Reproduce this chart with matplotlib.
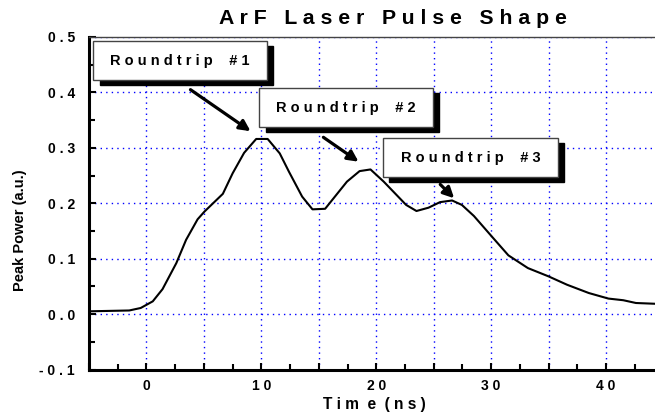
import numpy as np
import matplotlib.pyplot as plt
from matplotlib.patches import Rectangle
from matplotlib.ticker import MultipleLocator, FuncFormatter

plt.rcParams['font.family'] = ['Liberation Sans', 'DejaVu Sans']
plt.rcParams['font.weight'] = 'bold'

# Données ======================================================================
time = [-5, -1.5, -0.5, 0.55, 1.4, 2.6, 3.45, 4.45, 5.05, 6.65, 7.5, 8.5,
        9.55, 10.55, 11.6, 12.4, 13.55, 14.45, 15.55, 17.45, 18.55, 19.5,
        20.65, 22.6, 23.5, 24.55, 25.55, 26.6, 27.45, 28.5, 30.1, 31.5,
        33.2, 35.0, 36.6, 38.5, 40.2, 41.5, 42.6, 45]
power = [0.005, 0.0065, 0.011, 0.023, 0.045, 0.092, 0.134, 0.171, 0.185,
         0.217, 0.254, 0.291, 0.316, 0.316, 0.290, 0.257, 0.212, 0.189,
         0.190, 0.239, 0.258, 0.261, 0.239, 0.197, 0.186, 0.192, 0.202,
         0.205, 0.197, 0.177, 0.139, 0.106, 0.083, 0.068, 0.053, 0.038,
         0.028, 0.025, 0.020, 0.018]

labels = ['Roundtrip #1', 'Roundtrip #2', 'Roundtrip #3']

# Position des étiquettes (x0, x1, y0, y1) et des flèches (départ, arrivée)
boxes = [(-4.63, 10.5, 0.422, 0.493),
         (9.83, 24.93, 0.337, 0.4075),
         (20.6, 35.8, 0.247, 0.317)]
arrows = [((3.83, 0.405), (9.06, 0.330)),
          ((15.4, 0.319), (18.46, 0.275)),
          ((25.57, 0.234), (26.78, 0.209))]


def spaced(s):
    return ' '.join(s)


fig = plt.figure(figsize=(6.55, 4.18), dpi=100)
ax = fig.add_axes([89/655, 48.5/418, 574.5/655, 332.5/418])

ax.plot(time, power, 'k-', lw=1.5, zorder=3)

ax.set_xlim(-5, 45)
ax.set_ylim(-0.1, 0.5)

ax.xaxis.set_major_locator(MultipleLocator(5))
ax.xaxis.set_minor_locator(MultipleLocator(2.5))
ax.xaxis.set_major_formatter(FuncFormatter(
    lambda v, p: spaced('%d' % round(v)) if round(v) % 10 == 0 else ''))
ax.yaxis.set_major_locator(MultipleLocator(0.1))
ax.yaxis.set_minor_locator(MultipleLocator(0.05))
ax.yaxis.set_major_formatter(FuncFormatter(
    lambda v, p: spaced('%.1f' % v) if abs(v) > 1e-9 else '0 . 0'))

ax.grid(True, which='major', color='#0000ff', ls=(0, (1, 3)), lw=1)
ax.tick_params(which='both', direction='in', width=1.5, labelsize=10)
ax.tick_params(which='major', length=5)
ax.tick_params(which='minor', length=4)
ax.tick_params(axis='y', pad=10)
ax.tick_params(axis='x', pad=7)

ax.spines['left'].set_linewidth(2.2)
ax.spines['bottom'].set_linewidth(2.2)
ax.spines['top'].set_linewidth(1)
ax.spines['top'].set_color('#444444')
ax.spines['right'].set_visible(False)

# Étiquettes avec ombre et flèches ============================================
dx, dy = 0.55, 0.009
for lab, (x0, x1, y0, y1) in zip(labels, boxes):
    ax.add_patch(Rectangle((x0 + dx, y0 - dy), x1 - x0, y1 - y0,
                           fc='k', ec='k', zorder=5, clip_on=False))
    ax.add_patch(Rectangle((x0, y0), x1 - x0, y1 - y0,
                           fc='white', ec='#444444', lw=1, zorder=6,
                           clip_on=False))
    ax.text((x0 + x1)/2, (y0 + y1)/2, spaced(lab).replace('  ', '   '),
            ha='center', va='center', fontsize=10.5, fontweight='bold',
            zorder=7)

for (xs, ys), (xe, ye) in arrows:
    ax.annotate('', xy=(xe, ye), xytext=(xs, ys),
                arrowprops=dict(arrowstyle='-|>', color='k', lw=2.3,
                                mutation_scale=16, shrinkA=0, shrinkB=0),
                zorder=8)

fig.text(393/655, 1 - 19/418, spaced('ArF Laser Pulse Shape'),
         ha='center', va='center', fontsize=15.3, fontweight='bold')
fig.text(374/655, 1 - 404/418, 'T i m  e  ( n s )',
         ha='center', va='center', fontsize=11.2, fontweight='bold')
fig.text(20/655, 1 - 230/418, 'Peak Power (a.u.)', rotation=90,
         ha='center', va='center', fontsize=10.5, fontweight='bold')

fig.savefig('out.png', dpi=100)
